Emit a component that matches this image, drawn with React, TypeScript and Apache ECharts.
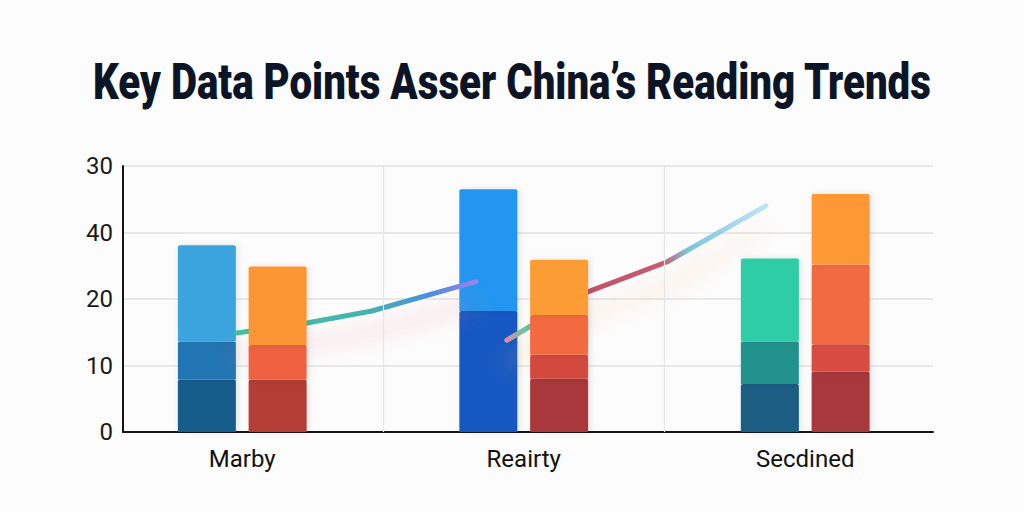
import React, { useEffect, useRef } from "react";
import * as echarts from "echarts";

const titleText = "Key Data Points Asser China\u2019s Reading Trends";
const categories = ["Marby", "Reairty", "Secdined"];
const yTickValues = [0, 10, 20, 30, 40];
const yTickLabels = ["0", "10", "20", "40", "30"];

// left (blue / teal) stack, bottom to top
const leftSeg1 = [7.9, 18.2, 7.2];
const leftSeg2 = [5.7, 18.3, 6.4];
const leftSeg3 = [14.5, 0, 12.5];
// right (orange / red) stack, bottom to top
const rightSeg1 = [7.9, 8.0, 9.1];
const rightSeg2 = [5.2, 3.6, 4.1];
const rightSeg3 = [11.8, 6.0, 12.0];
const rightSeg4 = [0, 8.3, 10.6];

// trend lines (x in category units, 0 = left edge of first category)
const trendAX = [0.48, 0.73, 0.96, 1.33];
const trendAY = [14.9, 16.4, 18.2, 22.6];
const trendBX = [1.44, 1.73, 2.01, 2.36];
const trendBY = [13.8, 21.1, 25.6, 34.0];

const categoryBoundaries = [1, 2];

const leftColors1 = ["#195d8b", "#1659c2", "#1b5d84"];
const leftColors2 = ["#2275b3", "#2196f0", "#22928c"];
const leftColors3 = ["#3aa4de", "#2196f0", "#2ecda6"];
const rightColors1 = ["#b43c35", "#a8393a", "#a7383a"];
const rightColors2 = ["#ee6243", "#d4493d", "#d84b42"];
const rightColors3 = ["#fc9636", "#f36a40", "#f26a42"];
const rightColors4 = ["#fc9636", "#fb9c34", "#fd9834"];

function App() {
  const ref = useRef<HTMLDivElement>(null);

  useEffect(() => {
    if (!ref.current) return;
    const chart = echarts.init(ref.current, null, { renderer: "svg" });

    const titleFontSize = 50;
    const titleWidth = 839;
    let scaleX = 0.72;
    try {
      const c = document.createElement("canvas");
      const ctx = c.getContext("2d");
      if (ctx) {
        ctx.font = `900 ${titleFontSize}px Roboto`;
        const w = ctx.measureText(titleText).width;
        if (w > 0) scaleX = titleWidth / w;
      }
    } catch (e) {}

    const gridTop = 166;
    const gridBottom = 80;

    const barSeries = (
      name: string,
      data: number[],
      colors: string[],
      stack: string,
      z: number
    ) => ({
      name,
      type: "bar",
      stack,
      xAxisIndex: 0,
      yAxisIndex: 0,
      barWidth: 58,
      barGap: "22%",
      z,
      data: data.map((v, i) => ({
        value: v,
        itemStyle: { color: colors[i] },
      })),
      itemStyle: {
        borderRadius: [2, 2, 0, 0],
        shadowBlur: 6,
        shadowColor: "rgba(0,0,0,0.10)",
        shadowOffsetX: 2,
      },
    });

    const option: any = {
      animation: false,
      backgroundColor: "#fcfcfc",
      graphic: [
        {
          type: "text",
          x: 512,
          y: 82,
          scaleX,
          style: {
            text: titleText,
            fontSize: titleFontSize,
            fontWeight: 900,
            fontFamily: "Roboto",
            fill: "#0c1526",
            align: "center",
            verticalAlign: "middle",
          },
        },
      ],
      grid: [
        { left: 101.5, right: 78, top: gridTop, bottom: gridBottom },
        { left: 123, right: 91, top: gridTop, bottom: gridBottom },
      ],
      xAxis: [
        {
          type: "category",
          gridIndex: 0,
          data: categories,
          boundaryGap: true,
          axisLine: { show: false },
          axisTick: { show: false },
          splitLine: { show: false },
          axisLabel: {
            fontSize: 24,
            color: "#111111",
            fontFamily: "Roboto",
            margin: 15,
          },
        },
        {
          type: "value",
          gridIndex: 0,
          min: 0,
          max: 3,
          show: false,
        },
        {
          type: "value",
          gridIndex: 1,
          min: 0,
          max: 1,
          axisLine: { show: true, lineStyle: { color: "#151515", width: 2 } },
          axisTick: { show: false },
          axisLabel: { show: false },
          splitLine: { show: false },
        },
      ],
      yAxis: [
        {
          type: "value",
          gridIndex: 0,
          min: 0,
          max: 40,
          show: false,
        },
        {
          type: "value",
          gridIndex: 1,
          min: 0,
          max: 40,
          interval: 10,
          axisLine: { show: true, lineStyle: { color: "#151515", width: 2 } },
          axisTick: { show: false },
          splitLine: { show: true, lineStyle: { color: "#e2e2e2", width: 1.5 } },
          axisLabel: {
            fontSize: 24,
            color: "#1a1a1a",
            fontFamily: "Roboto",
            margin: 10,
            formatter: (v: number) => {
              const i = yTickValues.indexOf(v);
              return i >= 0 ? yTickLabels[i] : "";
            },
          },
        },
      ],
      series: [
        barSeries("left1", leftSeg1, leftColors1, "left", 2),
        barSeries("right1", rightSeg1, rightColors1, "right", 4),
        barSeries("left2", leftSeg2, leftColors2, "left", 2),
        barSeries("left3", leftSeg3, leftColors3, "left", 2),
        barSeries("right2", rightSeg2, rightColors2, "right", 4),
        barSeries("right3", rightSeg3, rightColors3, "right", 4),
        barSeries("right4", rightSeg4, rightColors4, "right", 4),
        {
          name: "trendA",
          type: "line",
          xAxisIndex: 1,
          yAxisIndex: 0,
          z: 3,
          symbol: "none",
          data: trendAX.map((x, i) => [x, trendAY[i]]),
          lineStyle: {
            width: 5,
            cap: "round",
            color: new echarts.graphic.LinearGradient(0, 0, 1, 0, [
              { offset: 0, color: "#45c29a" },
              { offset: 0.55, color: "#45b3b0" },
              { offset: 0.8, color: "#4a8fdc" },
              { offset: 1, color: "#9a82e8" },
            ]),
            shadowColor: "rgba(238,120,145,0.45)",
            shadowBlur: 20,
            shadowOffsetY: 22,
          },
          markLine: {
            silent: true,
            symbol: ["none", "none"],
            label: { show: false },
            lineStyle: { color: "#e6e6e6", width: 1.2, type: "solid" },
            data: categoryBoundaries.map((b) => ({ xAxis: b })),
          },
        },
        {
          name: "trendB",
          type: "line",
          xAxisIndex: 1,
          yAxisIndex: 0,
          z: 3,
          symbol: "none",
          data: trendBX.map((x, i) => [x, trendBY[i]]),
          lineStyle: {
            width: 5,
            cap: "round",
            color: new echarts.graphic.LinearGradient(0, 0, 1, 0, [
              { offset: 0, color: "#e48aa5" },
              { offset: 0.07, color: "#62c99a" },
              { offset: 0.28, color: "#c0506a" },
              { offset: 0.6, color: "#c65b73" },
              { offset: 0.7, color: "#79c5dc" },
              { offset: 1, color: "rgba(150,210,235,0.6)" },
            ]),
            shadowColor: "rgba(250,180,120,0.45)",
            shadowBlur: 20,
            shadowOffsetY: 24,
          },
        },
      ],
    };

    chart.setOption(option);
    return () => chart.dispose();
  }, []);

  return (
    <div
      ref={ref}
      style={{ position: "fixed", left: 0, top: 0, width: 1024, height: 512 }}
    />
  );
}

export default App;
